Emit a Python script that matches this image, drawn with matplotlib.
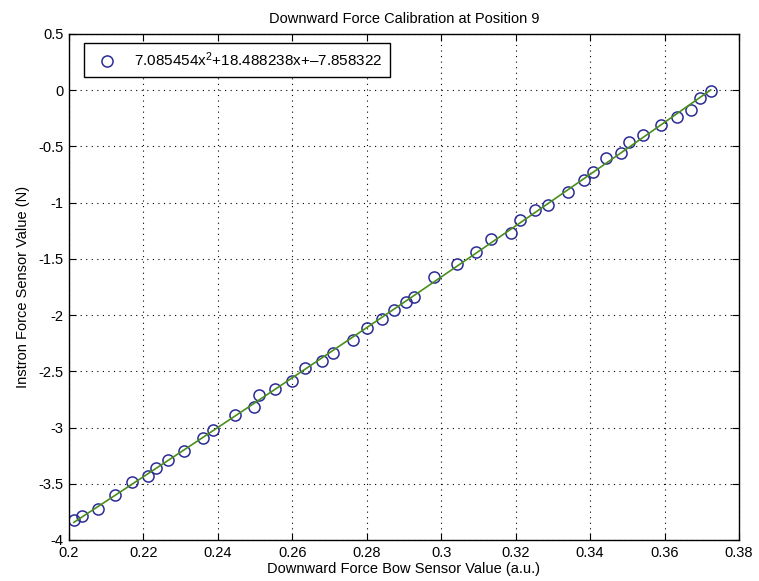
import numpy as np
import matplotlib
matplotlib.use('Agg')
import matplotlib.pyplot as plt
from matplotlib.ticker import FuncFormatter

# Messpunkte
bow_sensor = [0.2013, 0.2034, 0.2077, 0.2123, 0.2170, 0.2213, 0.2235, 0.2265, 0.2308,
              0.2361, 0.2387, 0.2446, 0.2497, 0.2510, 0.2554, 0.2598, 0.2635, 0.2679,
              0.2709, 0.2762, 0.2801, 0.2841, 0.2873, 0.2906, 0.2928, 0.2982, 0.3043,
              0.3094, 0.3133, 0.3187, 0.3212, 0.3253, 0.3288, 0.3341, 0.3383, 0.3408,
              0.3442, 0.3484, 0.3505, 0.3542, 0.3591, 0.3634, 0.3670, 0.3694, 0.3724]
instron = [-3.824, -3.788, -3.721, -3.597, -3.485, -3.432, -3.362, -3.291, -3.206,
           -3.097, -3.021, -2.885, -2.815, -2.715, -2.653, -2.582, -2.474, -2.412,
           -2.338, -2.218, -2.112, -2.038, -1.959, -1.882, -1.838, -1.665, -1.547,
           -1.438, -1.324, -1.270, -1.150, -1.065, -1.021, -0.905, -0.798, -0.723,
           -0.604, -0.554, -0.464, -0.399, -0.307, -0.235, -0.173, -0.068, -0.009]

fit_label = '7.085454x$^2$+18.488238x+\u20137.858322'
x_ticks = [0.2, 0.22, 0.24, 0.26, 0.28, 0.3, 0.32, 0.34, 0.36, 0.38]
y_ticks = [-4, -3.5, -3, -2.5, -2, -1.5, -1, -0.5, 0, 0.5]

plt.rcParams['font.family'] = ['Liberation Sans', 'DejaVu Sans']
plt.rcParams['axes.unicode_minus'] = False
plt.rcParams['mathtext.fontset'] = 'custom'
plt.rcParams['mathtext.rm'] = 'Liberation Sans'
plt.rcParams['mathtext.it'] = 'Liberation Sans'

fig = plt.figure(figsize=(7.59, 5.81), dpi=100)
ax = fig.add_axes([0.0909, 0.0706, 0.8827, 0.8709])

# quadratische Anpassung an die Messpunkte
coef = np.polyfit(bow_sensor, instron, 2)
xs = np.linspace(min(bow_sensor), max(bow_sensor), 200)

ax.plot(bow_sensor, instron, 'o', mfc='none', mec='#2b2b96', ms=8, mew=1.1,
        label=fit_label)
ax.plot(xs, np.polyval(coef, xs), color='#4a8f1c', lw=1.2)

ax.set_xlim(0.2, 0.38)
ax.set_ylim(-4, 0.5)
ax.set_xticks(x_ticks)
ax.set_yticks(y_ticks)
ax.xaxis.set_major_formatter(FuncFormatter(lambda v, p: '%g' % v))
ax.yaxis.set_major_formatter(FuncFormatter(lambda v, p: '%g' % v))
ax.tick_params(direction='in', top=True, right=True, labelsize=10.5, length=5, pad=4)
ax.grid(True, color='black', linestyle=(0, (1, 4)), linewidth=0.8)
for s in ax.spines.values():
    s.set_linewidth(1.0)

ax.set_title('Downward Force Calibration at Position 9', fontsize=10.5, pad=8)
ax.set_xlabel('Downward Force Bow Sensor Value (a.u.)', fontsize=10.5, labelpad=2)
ax.set_ylabel('Instron Force Sensor Value (N)', fontsize=10.5, labelpad=6)

leg = ax.legend(loc='upper left', bbox_to_anchor=(0.022, 0.982), borderaxespad=0,
                fancybox=False, edgecolor='black', framealpha=1, fontsize=11,
                handletextpad=0.8, handlelength=2.0, borderpad=0.5)
leg.get_frame().set_linewidth(1.0)

fig.savefig('out.png', dpi=100)
